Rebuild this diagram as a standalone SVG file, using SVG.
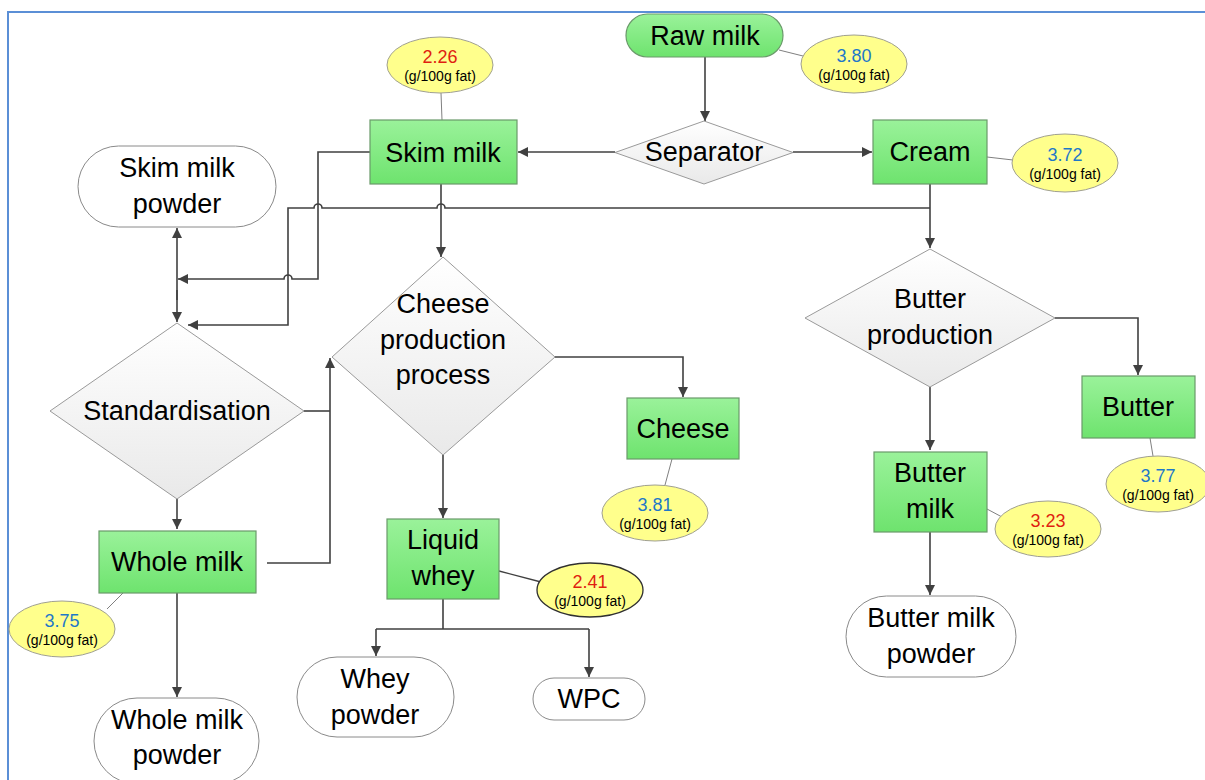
<svg xmlns="http://www.w3.org/2000/svg" width="1205" height="780" viewBox="0 0 1205 780">
<defs>
<linearGradient id="gGreen" x1="0" y1="0" x2="0" y2="1"><stop offset="0" stop-color="#9AF29A"/><stop offset="1" stop-color="#6EE36E"/></linearGradient>
<linearGradient id="gGray" x1="0" y1="0" x2="0" y2="1"><stop offset="0" stop-color="#FFFFFF"/><stop offset="1" stop-color="#E9E9E9"/></linearGradient>
<marker id="ah" viewBox="0 0 10 10" refX="10" refY="5" markerWidth="10" markerHeight="10" markerUnits="userSpaceOnUse" orient="auto-start-reverse"><path d="M0,0 L10,5 L0,10 z" fill="#404040"/></marker>
<style>
.box{fill:url(#gGreen);stroke:#6A9A6A;stroke-width:1.2}
.dia{fill:url(#gGray);stroke:#9A9A9A;stroke-width:1}
.pill{fill:#FFFFFF;stroke:#8A8A8A;stroke-width:1}
.ell{fill:#FFFF8C;stroke:#A0A090;stroke-width:1}
.lbl{font-family:"Liberation Sans",Arial,sans-serif;font-size:27px;fill:#000;text-anchor:middle}
.num{font-family:"Liberation Sans",Arial,sans-serif;font-size:18px;text-anchor:middle}
.blue{fill:#1E78C8}
.red{fill:#E01E10}
.unit{font-family:"Liberation Sans",Arial,sans-serif;font-size:14px;fill:#000;text-anchor:middle}
.con{fill:none;stroke:#404040;stroke-width:1.6}
.arr{marker-end:url(#ah)}
.lead{fill:none;stroke:#808080;stroke-width:1}
</style>
</defs>
<rect x="0" y="0" width="1205" height="780" fill="#FFFFFF"/>
<rect x="8" y="12" width="1210" height="790" fill="none" stroke="#5B8FD6" stroke-width="2"/>

<g id="connectors">
<path class="con arr" d="M705,57 L705,121"/>
<path class="con arr" d="M615,152 L518,152"/>
<path class="con arr" d="M793,152 L872,152"/>
<path class="con arr" d="M930,184 L930,248"/>
<path class="con arr" d="M930,208 L445,208 A4,4 0 0 0 437,208 L322,208 A4,4 0 0 0 314,208 L288,208 L288,325 L188,325"/>
<path class="con arr" d="M370,152 L318,152 L318,279 L292,279 A4,4 0 0 0 284,279 L178,279"/>
<path class="con" d="M177,253 L177,300" />
<path class="con arr" d="M177,253 L177,228"/>
<path class="con arr" d="M177,290 L177,322"/>
<path class="con arr" d="M441,184 L441,257"/>
<path class="con arr" d="M555,357 L683,357 L683,397"/>
<path class="con arr" d="M443,455 L443,518"/>
<path class="con" d="M443,599 L443,629 M376,629 L589,629"/>
<path class="con arr" d="M376,629 L376,656"/>
<path class="con arr" d="M589,629 L589,677"/>
<path class="con" d="M304,411 L330,411"/>
<path class="con arr" d="M267,563 L330,563 L330,358"/>
<path class="con arr" d="M177,499 L177,529"/>
<path class="con arr" d="M177,593 L177,697"/>
<path class="con arr" d="M1055,318 L1138,318 L1138,375"/>
<path class="con arr" d="M930,387 L930,450"/>
<path class="con arr" d="M930,532 L930,595"/>
<path class="lead" d="M779,50 L803,56"/>
<path class="lead" d="M441,93 L442,120"/>
<path class="lead" d="M987,157 L1013,160"/>
<path class="lead" d="M672,459 L665,485"/>
<path class="con" style="stroke-width:1.3" d="M499,571 L541,582"/>
<path class="lead" d="M123,593 L107,609"/>
<path class="lead" d="M1150,438 L1153,456"/>
<path class="lead" d="M987,509 L1002,517"/>
</g>

<g id="raw-milk"><rect x="626" y="14" width="157" height="43" rx="21.5" class="box"/><text x="705" y="45" class="lbl">Raw milk</text></g>
<g id="raw-milk-fat"><ellipse cx="854" cy="64" rx="53" ry="29" class="ell"/><text x="854" y="62" class="num blue">3.80</text><text x="854" y="80" class="unit">(g/100g fat)</text></g>
<g id="separator"><polygon points="704,121 793,152.5 704,184 615,152.5" class="dia"/><text x="704" y="161" class="lbl">Separator</text></g>
<g id="skim-milk"><rect x="370" y="120" width="147" height="64" class="box"/><text x="443" y="162" class="lbl">Skim milk</text></g>
<g id="skim-milk-fat"><ellipse cx="440" cy="65" rx="53" ry="28" class="ell"/><text x="440" y="63" class="num red">2.26</text><text x="440" y="81" class="unit">(g/100g fat)</text></g>
<g id="cream"><rect x="873" y="120" width="114" height="64" class="box"/><text x="930" y="161" class="lbl">Cream</text></g>
<g id="cream-fat"><ellipse cx="1065" cy="163" rx="53" ry="29" class="ell"/><text x="1065" y="161" class="num blue">3.72</text><text x="1065" y="179" class="unit">(g/100g fat)</text></g>
<g id="skim-milk-powder"><rect x="78" y="146" width="198" height="81" rx="40.5" class="pill"/><text x="177" y="177" class="lbl">Skim milk</text><text x="177" y="213" class="lbl">powder</text></g>
<g id="standardisation"><polygon points="177,323 304,411 177,499 50,411" class="dia"/><text x="177" y="420" class="lbl">Standardisation</text></g>
<g id="cheese-process"><polygon points="443,257 555,357 443,455 332,357" class="dia"/><text x="443" y="313" class="lbl">Cheese</text><text x="443" y="349" class="lbl">production</text><text x="443" y="384" class="lbl">process</text></g>
<g id="cheese"><rect x="627" y="398" width="112" height="61" class="box"/><text x="683" y="438" class="lbl">Cheese</text></g>
<g id="cheese-fat"><ellipse cx="655" cy="513" rx="53" ry="28" class="ell"/><text x="655" y="511" class="num blue">3.81</text><text x="655" y="529" class="unit">(g/100g fat)</text></g>
<g id="liquid-whey"><rect x="387" y="519" width="112" height="80" class="box"/><text x="443" y="549" class="lbl">Liquid</text><text x="443" y="585" class="lbl">whey</text></g>
<g id="liquid-whey-fat"><ellipse cx="590" cy="590" rx="53" ry="27" class="ell" style="stroke:#303030;stroke-width:1.3"/><text x="590" y="588" class="num red">2.41</text><text x="590" y="606" class="unit">(g/100g fat)</text></g>
<g id="whey-powder"><rect x="297" y="657" width="157" height="80" rx="40" class="pill"/><text x="375" y="688" class="lbl">Whey</text><text x="375" y="724" class="lbl">powder</text></g>
<g id="wpc"><rect x="533" y="678" width="112" height="42" rx="21" class="pill"/><text x="589" y="708" class="lbl">WPC</text></g>
<g id="whole-milk"><rect x="99" y="531" width="157" height="62" class="box"/><text x="177" y="571" class="lbl">Whole milk</text></g>
<g id="whole-milk-fat"><ellipse cx="62" cy="629" rx="53" ry="28" class="ell"/><text x="62" y="627" class="num blue">3.75</text><text x="62" y="645" class="unit">(g/100g fat)</text></g>
<g id="whole-milk-powder"><rect x="94" y="698" width="165" height="86" rx="43" class="pill"/><text x="177" y="729" class="lbl">Whole milk</text><text x="177" y="764" class="lbl">powder</text></g>
<g id="butter-production"><polygon points="930,249 1055,318 930,387 805,318" class="dia"/><text x="930" y="308" class="lbl">Butter</text><text x="930" y="344" class="lbl">production</text></g>
<g id="butter"><rect x="1082" y="376" width="113" height="62" class="box"/><text x="1138" y="416" class="lbl">Butter</text></g>
<g id="butter-fat"><ellipse cx="1158" cy="484" rx="52" ry="28" class="ell"/><text x="1158" y="482" class="num blue">3.77</text><text x="1158" y="500" class="unit">(g/100g fat)</text></g>
<g id="butter-milk"><rect x="874" y="452" width="113" height="80" class="box"/><text x="930" y="482" class="lbl">Butter</text><text x="930" y="518" class="lbl">milk</text></g>
<g id="butter-milk-fat"><ellipse cx="1048" cy="529" rx="53" ry="28" class="ell"/><text x="1048" y="527" class="num red">3.23</text><text x="1048" y="545" class="unit">(g/100g fat)</text></g>
<g id="butter-milk-powder"><rect x="846" y="596" width="170" height="81" rx="40.5" class="pill"/><text x="931" y="627" class="lbl">Butter milk</text><text x="931" y="663" class="lbl">powder</text></g>
</svg>
